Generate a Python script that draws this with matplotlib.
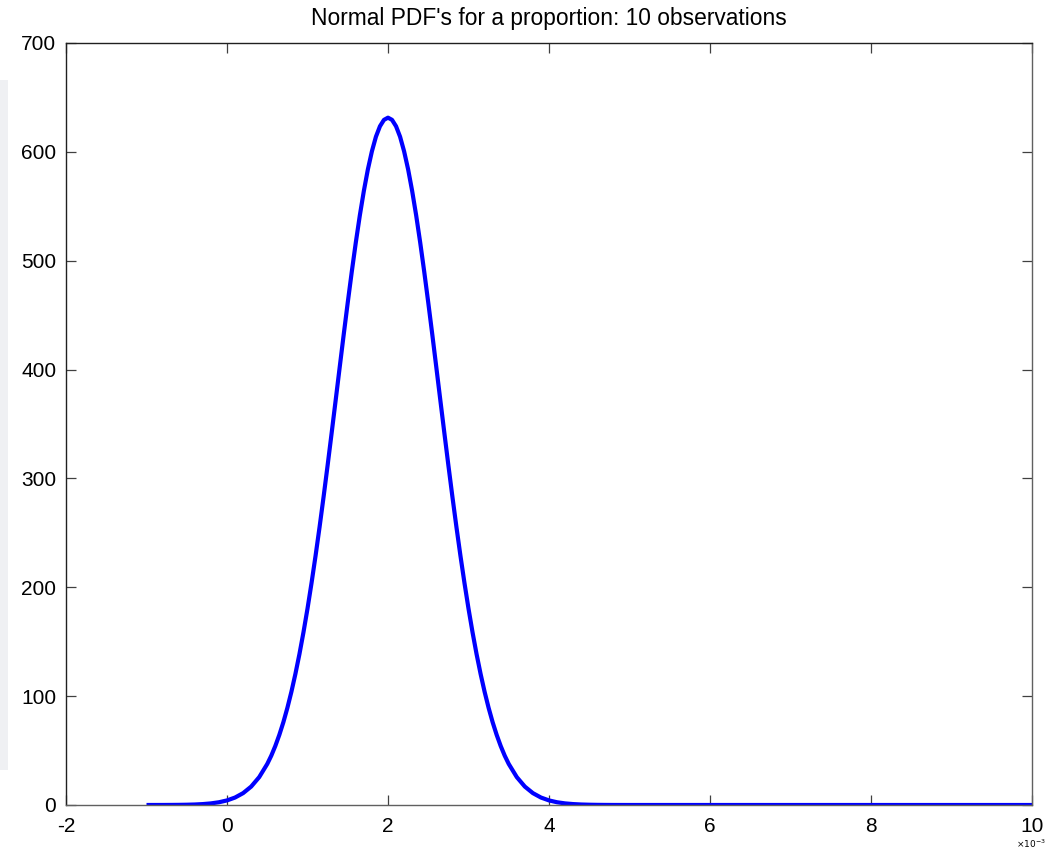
import matplotlib
matplotlib.use("Agg")
import matplotlib.pyplot as plt
from matplotlib.patches import Rectangle

# x in units of 1e-3 (proportion), y = density
x_vals = [-1.0, -0.9, -0.8, -0.7, -0.6, -0.5, -0.4, -0.3, -0.2, -0.1,
          0.0, 0.1, 0.2, 0.3, 0.4,
          0.50, 0.55, 0.60, 0.65, 0.70, 0.75, 0.80, 0.85, 0.90, 0.95,
          1.00, 1.05, 1.10, 1.15, 1.20, 1.25, 1.30, 1.35, 1.40, 1.45,
          1.50, 1.55, 1.60, 1.65, 1.70, 1.75, 1.80, 1.85, 1.90, 1.95,
          2.00, 2.05, 2.10, 2.15, 2.20, 2.25, 2.30, 2.35, 2.40, 2.45,
          2.50, 2.55, 2.60, 2.65, 2.70, 2.75, 2.80, 2.85, 2.90, 2.95,
          3.00, 3.05, 3.10, 3.15, 3.20, 3.25, 3.30, 3.35, 3.40, 3.45,
          3.50, 3.6, 3.7, 3.8, 3.9,
          4.0, 4.1, 4.2, 4.3, 4.4, 4.5, 4.6, 4.7, 4.8, 4.9,
          5.0, 10.0]
y_vals = [0.01, 0.02, 0.03, 0.07, 0.13, 0.25, 0.46, 0.84, 1.47, 2.52,
          4.21, 6.86, 10.9, 16.9, 25.6,
          37.7, 45.3, 54.2, 64.4, 76.0, 89.2, 104.0, 120.5, 138.7, 158.7,
          180.4, 203.9, 228.9, 255.4, 283.2, 312.1, 341.8, 371.9, 402.2, 432.3,
          461.6, 489.9, 516.7, 541.6, 564.1, 583.9, 600.5, 613.9, 623.5, 629.4,
          631.4, 629.4, 623.5, 613.9, 600.5, 583.9, 564.1, 541.6, 516.7, 489.9,
          461.6, 432.3, 402.2, 371.9, 341.8, 312.1, 283.2, 255.4, 228.9, 203.9,
          180.4, 158.7, 138.7, 120.5, 104.0, 89.2, 76.0, 64.4, 54.2, 45.3,
          37.7, 25.6, 16.9, 10.9, 6.86,
          4.21, 2.52, 1.47, 0.84, 0.46, 0.25, 0.13, 0.07, 0.03, 0.02,
          0.01, 0.0]
x_ticks = [-2, 0, 2, 4, 6, 8, 10]
y_ticks = [0, 100, 200, 300, 400, 500, 600, 700]
title_text = "Normal PDF's for a proportion: 10 observations"
x_multiplier = r'$\times10^{-3}$'

plt.rcParams['font.family'] = ['Liberation Sans', 'DejaVu Sans']

W, H = 1047, 850
fig = plt.figure(figsize=(W / 100, H / 100), dpi=100)
fig.patch.set_facecolor('white')

# light grey slide strip at the left edge
fig.patches.append(Rectangle((0, 80 / H), 8 / W, 690 / H, transform=fig.transFigure,
                             facecolor='#eff0f3', edgecolor='none', zorder=0))

ax = fig.add_axes([66 / W, 1 - 805 / H, (1032 - 66) / W, (805 - 43) / H])
ax.plot(x_vals, y_vals, color='#0000ff', lw=3, solid_capstyle='butt',
        solid_joinstyle='round', zorder=2)

ax.set_xlim(-2, 10)
ax.set_ylim(0, 700)
ax.set_xticks(x_ticks)
ax.set_yticks(y_ticks)
ax.set_xticklabels([str(v) for v in x_ticks])
ax.set_yticklabels([str(v) for v in y_ticks])

ax.tick_params(axis='both', direction='in', length=7.2, width=0.9, color='#404040',
               labelsize=15, labelcolor='black', top=True, right=True)
ax.tick_params(axis='x', pad=9)
ax.tick_params(axis='y', pad=7)

for name, sp in ax.spines.items():
    sp.set_linewidth(1.0)
    sp.set_color('#202020' if name in ('top', 'left') else '#606060')
    sp.set_zorder(3)

ax.set_title(title_text, fontsize=16.4, pad=13)

fig.text(1046 / W, 0.5 / H, x_multiplier, ha='right', va='bottom', fontsize=6.5)

fig.savefig('out.png', dpi=100)
